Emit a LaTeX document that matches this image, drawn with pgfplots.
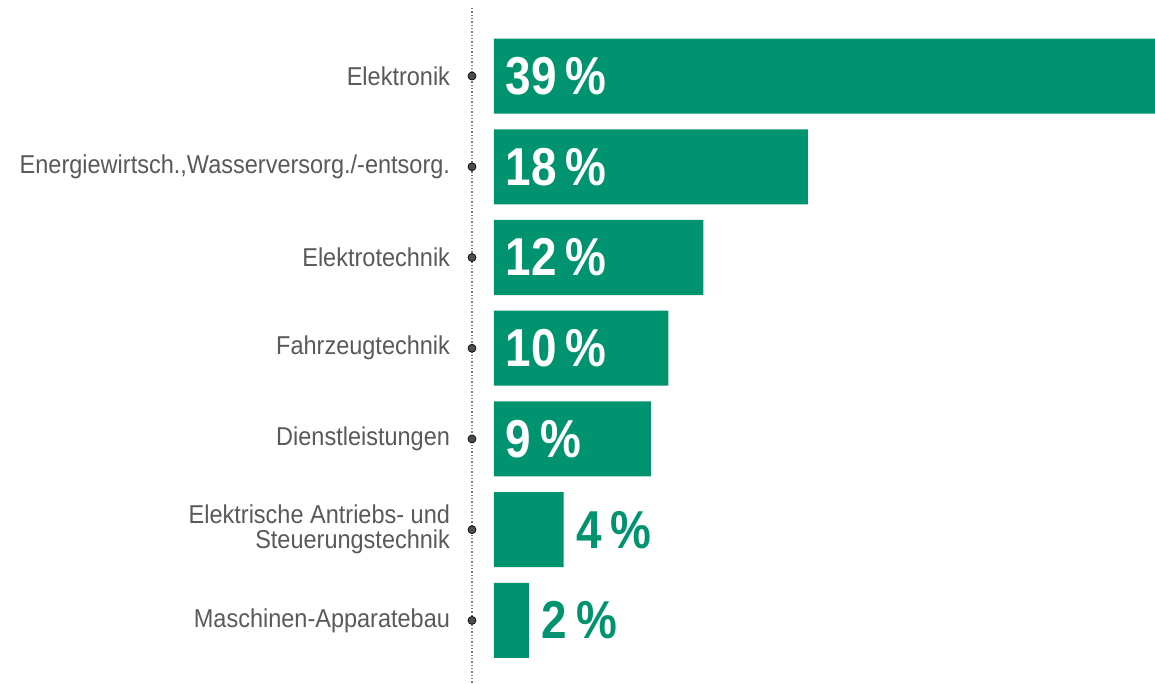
\documentclass[border=0pt]{standalone}
\usepackage{fontspec}
\setmainfont{Liberation Sans}
\newfontfamily\labfont[FakeStretch=0.91]{Liberation Sans}
\newfontfamily\numfont[FakeStretch=0.86]{Liberation Sans Bold}
\usepackage{pgfplots}
\pgfplotsset{compat=1.18}
\definecolor{barG}{HTML}{00936F}
\definecolor{labG}{HTML}{58595B}
\definecolor{dotG}{HTML}{4D4D4F}
\definecolor{lineG}{HTML}{7A7A7C}
\begin{document}
\begin{tikzpicture}
\begin{axis}[
  at={(283.2pt,0pt)}, anchor=south west,
  scale only axis, width=409.8pt, height=405pt,
  xmin=-1.26, xmax=37.9,
  ymin=-0.75, ymax=6.69, y dir=reverse,
  hide x axis,
  axis y line*=left,
  y axis line style={draw=lineG, line width=0.8pt, dash pattern=on 0.8pt off 1.2pt},
  ytick={0,1,2,3,4,5,6},
  yticklabels={Elektronik,{Energiewirtsch.,Wasserversorg./-entsorg.},Elektrotechnik,Fahrzeugtechnik,Dienstleistungen,{Elektrische Antriebs- und\\Steuerungstechnik},Maschinen-Apparatebau},
  major tick length=0pt,
  yticklabel style={inner sep=0pt, xshift=-13pt, align=right, text=labG, font=\labfont\fontsize{15.5}{15}\selectfont},
  clip mode=individual,
]
\addplot[xbar, fill=barG, draw=none, bar width=0.827] coordinates {(39,0) (18,1) (12,2) (10,3) (9,4) (4,5) (2,6)};
\addplot[draw=none, mark=none, nodes near coords, point meta=explicit symbolic,
  nodes near coords style={anchor=west, inner sep=0pt, xshift=7pt, text=white, font=\numfont\fontsize{32}{32}\selectfont}]
  coordinates {(0,0) [39\,\%] (0,1) [18\,\%] (0,2) [12\,\%] (0,3) [10\,\%] (0,4) [9\,\%]};
\addplot[draw=none, mark=none, nodes near coords, point meta=explicit symbolic,
  nodes near coords style={anchor=west, inner sep=0pt, xshift=7.5pt, text=barG, font=\numfont\fontsize{32}{32}\selectfont}]
  coordinates {(4,5) [4\,\%] (2,6) [2\,\%]};
\addplot[only marks, clip=false, mark=*, mark size=2.4pt, mark options={fill=dotG, draw=none}]
  coordinates {(-1.26,0) (-1.26,1) (-1.26,2) (-1.26,3) (-1.26,4) (-1.26,5) (-1.26,6)};
\end{axis}
\pgfresetboundingbox
\useasboundingbox (0,0) rectangle (693pt,409.8pt);
\end{tikzpicture}
\end{document}
